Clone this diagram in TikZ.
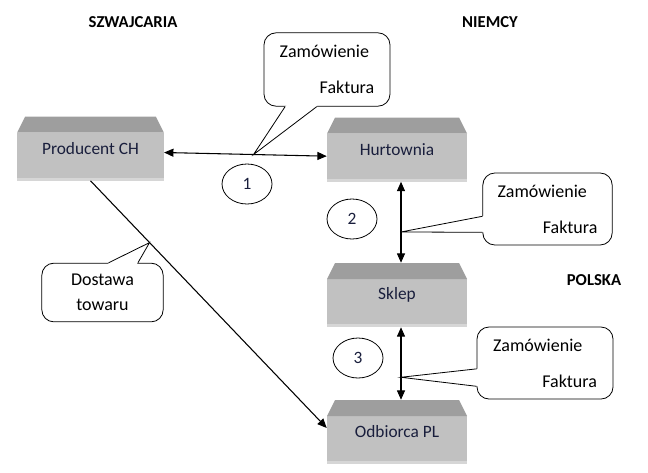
\documentclass[tikz,border=0pt]{standalone}
\usepackage{fontspec}
\setmainfont{Carlito}
\usetikzlibrary{calc,arrows.meta,shapes.geometric}
\definecolor{boxgray}{RGB}{193,193,193}
\definecolor{bevelgray}{RGB}{158,158,158}
\definecolor{edgegray}{RGB}{214,214,214}
\definecolor{navy}{RGB}{25,30,60}

\begin{document}
\begin{tikzpicture}[x=0.75pt,y=-0.75pt,
  firm/.style={minimum width=105pt, minimum height=48pt, inner sep=0pt, text=navy,
    font=\fontsize{13}{15}\selectfont,
    path picture={
      \fill[boxgray] (path picture bounding box.south west) rectangle ([yshift=-12pt]path picture bounding box.north east);
      \fill[edgegray] (path picture bounding box.south west) rectangle ([yshift=2pt]path picture bounding box.south east);
      \fill[bevelgray] ([yshift=-12pt]path picture bounding box.north west) -- ([xshift=6pt]path picture bounding box.north west)
        -- ([xshift=-6pt]path picture bounding box.north east) -- ([yshift=-12pt]path picture bounding box.north east) -- cycle;}},
  bubble/.style={draw, line width=0.6pt, rounded corners=9pt, inner sep=0pt, align=left,
    font=\fontsize{13.5}{16}\selectfont},
  num/.style={draw, ellipse, line width=0.6pt, minimum width=37.5pt, minimum height=30pt, inner sep=0pt,
    text=navy, font=\fontsize{13}{15}\selectfont},
  land/.style={font=\fontsize{12.5}{15}\selectfont\bfseries},
  flow/.style={line width=0.8pt, {Triangle[length=7pt,width=6pt]}-{Triangle[length=7pt,width=6pt]}}
]
\useasboundingbox (0,0) rectangle (648,472);

% countries
\node[land] (ch) at (133,22) {SZWAJCARIA};
\node[land] (de) at (490,22) {NIEMCY};
\node[land] (pl) at (594,280) {POLSKA};

% firms
\node[firm, minimum width=110pt] (prod) at (90.5,148.5) {Producent CH};
\node[firm] (hurt) at (397,149.5) {Hurtownia};
\node[firm] (sklep) at (397,295) {Sklep};
\node[firm] (odb) at (397,432) {Odbiorca PL};

% steps
\node[num] (n1) at (247,184) {1};
\node[num] (n2) at (352,219) {2};
\node[num] (n3) at (358,358) {3};

% flows
\draw[flow] ([yshift=-3pt]prod.east) -- ([yshift=-5pt]hurt.west);
\draw[flow] ([xshift=3pt]hurt.south) -- ([xshift=3pt]sklep.north);
\draw[flow] ([xshift=3pt]sklep.south) -- ([xshift=3pt]odb.north);
\draw[line width=0.8pt, -{Triangle[length=7pt,width=6pt]}] (prod.south) -- ([yshift=3pt]odb.west);

\coordinate (t1) at ($([yshift=-3pt]prod.east)!0.55!([yshift=-5pt]hurt.west)$);
\coordinate (t2) at ($([xshift=3pt]hurt.south)!0.62!([xshift=3pt]sklep.north)$);
\coordinate (t3) at ($([xshift=3pt]sklep.south)!0.69!([xshift=3pt]odb.north)$);
\coordinate (t4) at ($(prod.south)!0.25!([yshift=3pt]odb.west)$);

% callouts
\node[bubble, minimum width=94.5pt, minimum height=55pt] (c1) at (327,69.5) {Zamówienie\\[11pt]\hspace*{30pt}Faktura};
\node[bubble, minimum width=97pt, minimum height=54pt] (c2) at (547.5,209) {Zamówienie\\[11pt]\hspace*{34pt}Faktura};
\node[bubble, minimum width=102pt, minimum height=54pt] (c3) at (545,363) {Zamówienie\\[11pt]\hspace*{37pt}Faktura};
\node[bubble, align=center, font=\fontsize{13.5}{19}\selectfont, minimum width=91pt, minimum height=44pt] (c4) at (102.5,292.5) {Dostawa\\towaru};

\coordinate (c1-a) at ($(c1.south west)!0.17!(c1.south east)$);
\coordinate (c1-b) at ($(c1.south west)!0.42!(c1.south east)$);
\coordinate (c2-a) at ($(c2.north west)!0.6!(c2.south west)$);
\coordinate (c2-b) at ($(c2.north west)!0.82!(c2.south west)$);
\coordinate (c3-a) at ($(c3.north west)!0.58!(c3.south west)$);
\coordinate (c3-b) at ($(c3.north west)!0.82!(c3.south west)$);
\coordinate (c4-a) at ($(c4.north west)!0.55!(c4.north east)$);
\coordinate (c4-b) at ($(c4.north west)!0.79!(c4.north east)$);

\foreach \c/\t in {c1/t1,c2/t2,c3/t3,c4/t4}{
  \fill[white] (\c-a) -- (\t) -- (\c-b) -- ($(\c-b)!1.5pt!(\c.center)$) -- ($(\c-a)!1.5pt!(\c.center)$) -- cycle;
  \draw[line width=0.6pt] (\c-a) -- (\t) -- (\c-b);
}
\end{tikzpicture}
\end{document}
